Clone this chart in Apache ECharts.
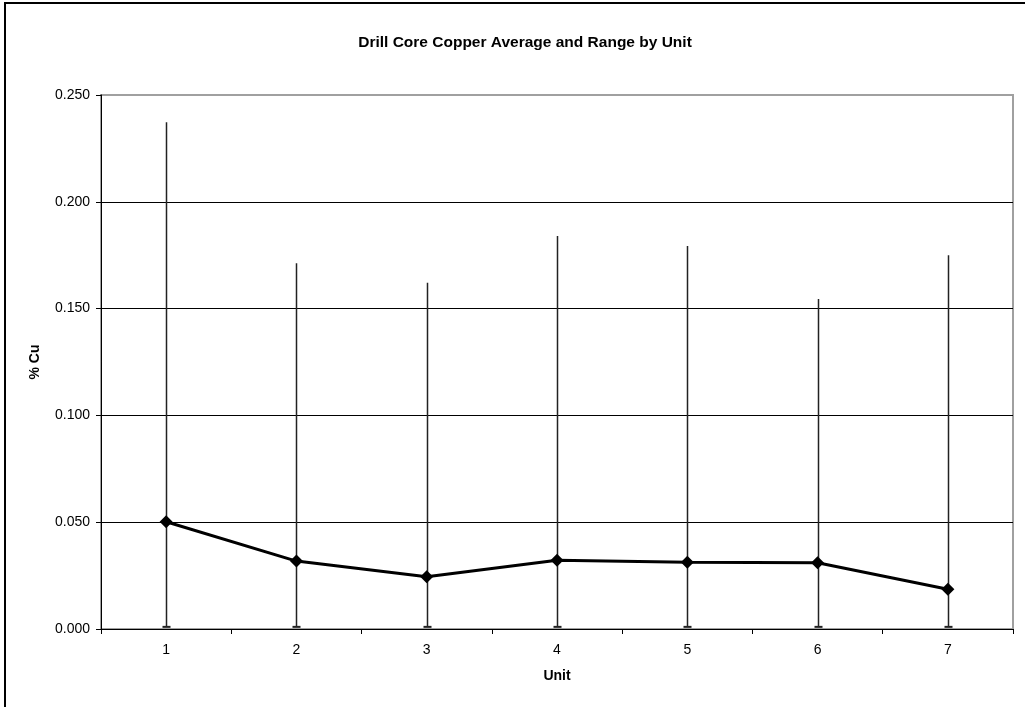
<!DOCTYPE html>
<html>
<head>
<meta charset="utf-8">
<script src="https://cdn.jsdelivr.net/npm/echarts@6/dist/echarts.min.js"></script>
<style>
html,body{margin:0;padding:0;background:#fff;}
#c{width:1025px;height:707px;}
</style>
</head>
<body>
<div id="c"></div>
<script>
var units = ['1','2','3','4','5','6','7'];
var avgCu = [0.0502, 0.0318, 0.0245, 0.0322, 0.0312, 0.0310, 0.0186];
var maxCu = [0.2372, 0.1712, 0.1621, 0.1840, 0.1793, 0.1545, 0.1750];
var minCu = [0.0010, 0.0010, 0.0010, 0.0010, 0.0010, 0.0010, 0.0010];
var yTicks = ['0.000','0.050','0.100','0.150','0.200','0.250'];

var FONT = '"Liberation Sans", Arial, sans-serif';
var chart = echarts.init(document.getElementById('c'), null, {renderer: 'canvas'});

var rangeData = units.map(function (u, i) { return [i, minCu[i], maxCu[i]]; });

chart.setOption({
  animation: false,
  backgroundColor: '#ffffff',
  title: {
    text: 'Drill Core Copper Average and Range by Unit',
    left: 520, top: 30, textAlign: 'center',
    textStyle: {fontFamily: FONT, fontSize: 15.5, fontWeight: 'bold', color: '#000'}
  },
  graphic: [{
    type: 'rect', silent: true, z: 100,
    shape: {x: 5, y: 3, width: 1040, height: 720},
    style: {fill: 'none', stroke: '#000', lineWidth: 2}
  }],
  grid: {
    left: 101, right: 12, top: 95, bottom: 78,
    show: true, borderColor: '#a0a0a0', borderWidth: 2, backgroundColor: '#fff'
  },
  xAxis: {
    type: 'category', data: units, boundaryGap: true,
    name: 'Unit', nameLocation: 'middle', nameGap: 40,
    nameTextStyle: {fontFamily: FONT, fontSize: 14, fontWeight: 'bold', color: '#000'},
    axisLine: {lineStyle: {color: '#000', width: 1}},
    axisTick: {show: true, alignWithLabel: false, length: 5, inside: false, lineStyle: {color: '#000'}},
    axisLabel: {fontFamily: FONT, fontSize: 14, color: '#000', margin: 14},
    splitLine: {show: false}
  },
  yAxis: {
    type: 'value', min: 0, max: 0.25, interval: 0.05,
    name: '% Cu', nameLocation: 'middle', nameGap: 59, nameRotate: 90,
    nameTextStyle: {fontFamily: FONT, fontSize: 14, fontWeight: 'bold', color: '#000'},
    axisLine: {show: true, lineStyle: {color: '#000', width: 1}},
    axisTick: {show: true, length: 5, lineStyle: {color: '#000'}},
    axisLabel: {fontFamily: FONT, fontSize: 14, color: '#000', margin: 11,
      formatter: function (v) { return yTicks[Math.round(v / 0.05)]; }},
    splitLine: {show: true, lineStyle: {color: ['#000','#000','#000','#000','#000','#a0a0a0'], width: 1}}
  },
  series: [{
    type: 'custom',
    name: 'Range',
    data: rangeData,
    z: 3,
    renderItem: function (params, api) {
      var lo = api.coord([api.value(0), api.value(1)]);
      var hi = api.coord([api.value(0), api.value(2)]);
      var x = Math.round(lo[0]) + 0.5;
      return {
        type: 'group',
        children: [{
          type: 'line',
          shape: {x1: x, y1: hi[1], x2: x, y2: lo[1]},
          style: {stroke: '#222', lineWidth: 1.5}
        }, {
          type: 'line',
          shape: {x1: x - 4, y1: lo[1], x2: x + 4, y2: lo[1]},
          style: {stroke: '#222', lineWidth: 2}
        }]
      };
    }
  }, {
    type: 'line',
    name: 'Average',
    data: avgCu,
    z: 5,
    symbol: 'diamond', symbolSize: 13, showSymbol: true,
    lineStyle: {color: '#000', width: 3},
    itemStyle: {color: '#000'}
  }]
});
</script>
</body>
</html>
